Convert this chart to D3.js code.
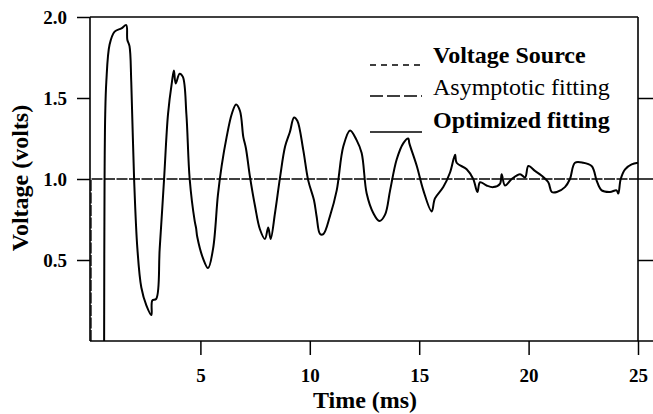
<!DOCTYPE html>
<html>
<head>
<meta charset="utf-8">
<script src="https://cdn.jsdelivr.net/npm/d3@7"></script>
<style>
	body {margin: 0; background: #fff;}
	svg {display: block;}
	svg text {font-family: "Liberation Serif", "Times New Roman", serif;}
	.axis text {font-size: 19px; font-weight: bold; fill: #000;}
	.axis line {stroke: #000; stroke-width: 1.5;}
	.axis .domain {display: none;}
</style>
</head>
<body>
<div id="chart"></div>
<script>
var timeMs = [0.60, 0.62, 0.65, 0.70, 0.85, 1.08, 1.39, 1.61, 1.66, 1.76, 1.84, 1.97, 2.12, 2.30, 2.53, 2.76, 2.80, 2.98,
	3.14, 3.34, 3.52, 3.70, 3.79, 3.87, 4.05, 4.20, 4.36, 4.51, 4.74, 4.80, 4.86, 5.12, 5.35, 5.58, 5.80, 5.97,
	6.20, 6.43, 6.63, 6.81, 6.96, 7.08, 7.27, 7.50, 7.72, 7.95, 8.10, 8.21, 8.41, 8.64, 8.87, 9.09, 9.28, 9.43,
	9.70, 9.93, 10.19, 10.31, 10.47, 10.62, 10.92, 11.23, 11.53, 11.84, 12.14, 12.37, 12.60, 12.90, 13.18, 13.44,
	13.67, 13.97, 14.27, 14.50, 14.55, 14.89, 15.19, 15.57, 15.72, 16.10, 16.41, 16.64, 16.71, 17.17, 17.47, 17.66,
	17.78, 18.08, 18.39, 18.69, 18.77, 18.92, 19.23, 19.61, 19.84, 19.99, 20.29, 20.60, 20.90, 21.06, 21.29, 21.66,
	21.89, 22.12, 22.50, 22.88, 22.99, 23.11, 23.34, 23.72, 24.02, 24.10, 24.21, 24.41, 24.71, 25.00];
var voltage = [0.00, 1.00, 1.40, 1.60, 1.83, 1.91, 1.93, 1.95, 1.86, 1.82, 1.60, 1.00, 0.57, 0.33, 0.22, 0.16, 0.25, 0.26,
	0.57, 1.00, 1.40, 1.60, 1.67, 1.59, 1.65, 1.63, 1.40, 1.00, 0.74, 0.70, 0.64, 0.51, 0.45, 0.57, 0.90, 1.08,
	1.26, 1.40, 1.46, 1.42, 1.26, 1.19, 1.01, 0.83, 0.69, 0.63, 0.70, 0.63, 0.79, 1.01, 1.20, 1.29, 1.38, 1.36,
	1.18, 0.99, 0.87, 0.77, 0.66, 0.66, 0.77, 0.93, 1.20, 1.30, 1.24, 1.16, 0.91, 0.79, 0.74, 0.78,
	0.93, 1.12, 1.22, 1.25, 1.22, 1.08, 0.93, 0.80, 0.88, 0.95, 1.04, 1.15, 1.10, 1.06, 1.00, 0.92,
	0.98, 0.96, 0.95, 0.97, 1.03, 0.96, 1.00, 1.03, 1.01, 1.08, 1.05, 1.02, 0.98, 0.92, 0.92, 0.95,
	1.00, 1.10, 1.10, 1.08, 1.05, 0.99, 0.93, 0.92, 0.93, 0.91, 1.00, 1.06, 1.09, 1.10];

//Step voltage source
var sourceTime = [0, 0, 25];
var sourceVolt = [0, 1, 1];

var xTicks = [5, 10, 15, 20, 25];
var yTicks = [0.5, 1.0, 1.5, 2.0];
var legendLabels = ["Voltage Source", "Asymptotic fitting", "Optimized fitting"];

var width = 653, height = 414;
var svg = d3.select("#chart").append("svg")
	.attr("width", width)
	.attr("height", height);

var x = d3.scaleLinear().domain([0, 25]).range([91, 638]);
var y = d3.scaleLinear().domain([0, 2]).range([341, 17]);

//Axes (drop d3's default sans-serif so the serif face applies)
svg.append("g")
	.attr("class", "axis")
	.attr("transform", "translate(0," + y(0) + ")")
	.call(d3.axisBottom(x).tickValues(xTicks).tickSize(14).tickPadding(14).tickFormat(d3.format("d")))
	.attr("font-family", null).attr("font-size", null);
svg.append("g")
	.attr("class", "axis")
	.attr("transform", "translate(" + (x(0) - 1) + ",0)")
	.call(d3.axisLeft(y).tickValues(yTicks).tickSize(13).tickPadding(10).tickFormat(d3.format(".1f")))
	.attr("font-family", null).attr("font-size", null);
svg.append("g")
	.attr("class", "axis")
	.attr("transform", "translate(" + x(25) + ",0)")
	.call(d3.axisRight(y).tickValues([0.5, 1.5]).tickSize(15).tickFormat(""));

//Frame
var frame = svg.append("g").attr("stroke", "#000").attr("stroke-width", 1.6);
frame.append("line").attr("x1", x(0) - 1).attr("x2", x(0) - 1).attr("y1", y(2)).attr("y2", y(0));
frame.append("line").attr("x1", x(0) - 1).attr("x2", x(25)).attr("y1", y(2)).attr("y2", y(2));
frame.append("line").attr("x1", x(25)).attr("x2", x(25)).attr("y1", y(2)).attr("y2", y(0));
frame.append("line").attr("x1", x(0) - 1).attr("x2", width).attr("y1", y(0)).attr("y2", y(0));

//Voltage source
var source = sourceTime.map(function(t, i) {return [t, sourceVolt[i]];});
svg.append("path")
	.datum(source)
	.attr("fill", "none")
	.attr("stroke", "#000")
	.attr("stroke-width", 1.3)
	.attr("stroke-dasharray", "11,1.5")
	.attr("d", d3.line().x(function(d) {return x(d[0]);}).y(function(d) {return y(d[1]);}));
svg.append("line")
	.attr("x1", x(25)).attr("x2", width)
	.attr("y1", y(1)).attr("y2", y(1))
	.attr("stroke", "#000").attr("stroke-width", 1.5);

//Response curve
var response = timeMs.map(function(t, i) {return [t, voltage[i]];});
svg.append("path")
	.datum(response)
	.attr("fill", "none")
	.attr("stroke", "#000")
	.attr("stroke-width", 2)
	.attr("stroke-linejoin", "round")
	.attr("d", d3.line()
		.curve(d3.curveCatmullRom.alpha(0.5))
		.x(function(d) {return x(d[0]);})
		.y(function(d) {return y(d[1]);}));

//Legend
var dashes = ["6,5", "13,4", null];
var weights = ["bold", "normal", "bold"];
var baselines = [63, 95, 128];
var lineY = [65, 96, 132];
var legend = svg.append("g");
legendLabels.forEach(function(label, i) {
	legend.append("line")
		.attr("x1", 370).attr("x2", 422)
		.attr("y1", lineY[i]).attr("y2", lineY[i])
		.attr("stroke", "#000")
		.attr("stroke-width", 1.4)
		.attr("stroke-dasharray", dashes[i]);
	legend.append("text")
		.attr("x", 433)
		.attr("y", baselines[i])
		.attr("font-size", "24px")
		.attr("font-weight", weights[i])
		.text(label);
});

//Axis titles
svg.append("text")
	.attr("x", 365)
	.attr("y", 408)
	.attr("text-anchor", "middle")
	.attr("font-size", "24px")
	.attr("font-weight", "bold")
	.text("Time (ms)");
svg.append("text")
	.attr("transform", "translate(28,178) rotate(-90)")
	.attr("text-anchor", "middle")
	.attr("font-size", "24px")
	.attr("font-weight", "bold")
	.text("Voltage (volts)");
</script>
</body>
</html>
